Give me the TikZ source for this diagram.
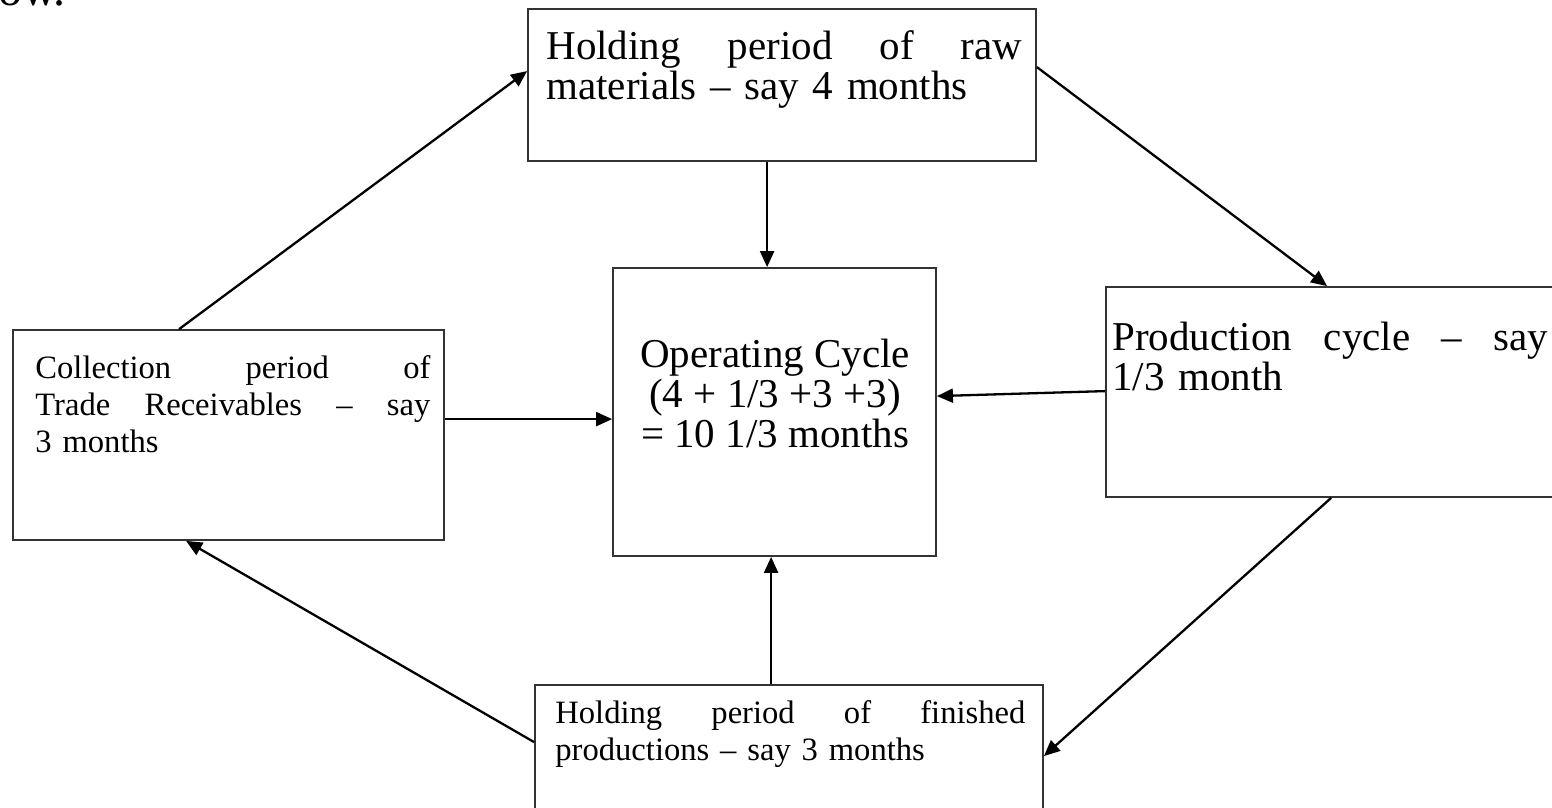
\documentclass[tikz,border=0pt]{standalone}
\usepackage{fontspec}
\setmainfont{Liberation Serif}
\usetikzlibrary{arrows.meta,calc}
\begin{document}
\begin{tikzpicture}[x=0.5pt,y=-0.5pt,
 box/.style={draw=black!80, line width=0.9pt, inner sep=0pt, rectangle},
 big/.style={font=\fontsize{20.5}{20}\selectfont, inner sep=0pt, anchor=north west, align=left},
 small/.style={font=\fontsize{16.3}{18.5}\selectfont, inner sep=0pt, anchor=north west, align=left},
 arr/.style={line width=1.15pt, -{Triangle[length=8pt,width=7pt]}}]
\useasboundingbox (0,0) rectangle (1552,808);
\clip (0,0) rectangle (1552,808);
% partial text at top-left
\node[font=\fontsize{24}{28}\selectfont, inner sep=0pt, anchor=base east] (frag) at (66,6) {below.};
% boxes
\node[box, minimum width=254pt, minimum height=76pt] (T) at (782,85) {};
\node[box, minimum width=161.5pt, minimum height=144pt] (C) at (774.5,412) {};
\node[box, minimum width=215.5pt, minimum height=105pt] (L) at (228.5,435) {};
\node[box, minimum width=237pt, minimum height=105pt] (R) at (1343,392) {};
\node[box, minimum width=254pt, minimum height=82.5pt] (B) at (789,767.5) {};
% texts
\node[big, text width=238pt] (Tt) at (546,30) {Holding\hfill period\hfill of\hfill raw\\ materials -- say 4 months};
\node[big, text width=218pt] (Rt) at (1112,322) {Production\hfill cycle\hfill --\hfill say\\ 1/3 month};
\node[big, anchor=north, align=center] (Ct) at (775,339) {Operating Cycle\\ (4 + 1/3 +3 +3)\\ = 10 1/3 months};
\node[small, text width=197.5pt] (Lt) at (35,355) {Collection\hfill period\hfill of\\ Trade\hfill Receivables\hfill --\hfill say\\ 3 months};
\node[small, text width=235pt] (Bt) at (555,700) {Holding\hfill period\hfill of\hfill finished\\ productions -- say 3 months};
% connectors
\draw[arr] ($(L.north west)+(167,0)$) -- ($(T.north west)+(0,63)$);
\draw[arr] ($(T.north east)+(0,59)$) -- ($(R.north west)+(222,0)$);
\draw[arr] ($(R.south west)+(226,0)$) -- ($(B.north east)+(0,72)$);
\draw[arr] ($(B.north west)+(0,58)$) -- ($(L.south west)+(174,0)$);
\draw[arr] ($(T.south west)+(240,0)$) -- ($(C.north west)+(155,0)$);
\draw[arr] ($(B.north west)+(237,0)$) -- ($(C.south west)+(159,0)$);
\draw[arr] ($(L.north east)+(0,90)$) -- ($(C.north west)+(0,152)$);
\draw[arr] ($(R.north west)+(0,105)$) -- ($(C.north east)+(0,129)$);
\end{tikzpicture}
\end{document}
